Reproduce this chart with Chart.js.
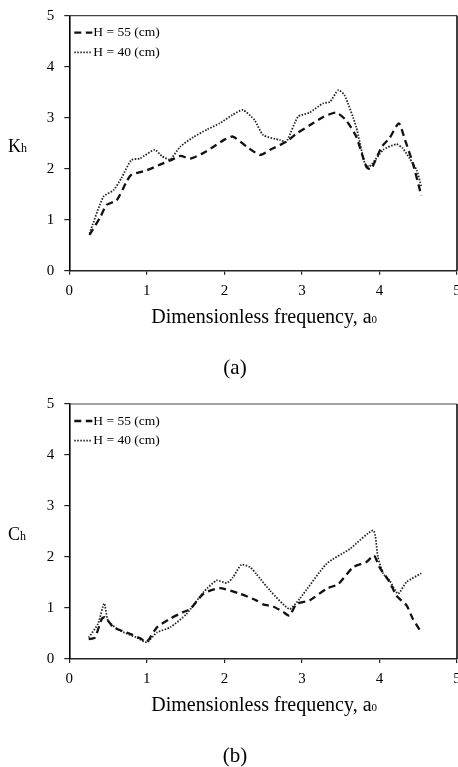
<!DOCTYPE html>
<html>
<head>
<meta charset="utf-8">
<script src="https://cdn.jsdelivr.net/npm/chart.js@4"></script>
<style>
  html, body { margin: 0; padding: 0; background: #fff; }
  body { width: 458px; height: 767px; position: relative; overflow: hidden; }
  .box { position: absolute; left: 0; width: 458px; }
  #boxA { top: 0; height: 388px; }
  #boxB { top: 388px; height: 379px; }
</style>
</head>
<body>
<div class="box" id="boxA"><canvas id="khChart"></canvas></div>
<div class="box" id="boxB"><canvas id="chChart"></canvas></div>
<script>
// x ticks (dimensionless frequency) and y ticks
const xTicks = [0, 1, 2, 3, 4, 5];
const yTicks = [0, 1, 2, 3, 4, 5];
const seriesNames = ['H = 55 (cm)', 'H = 40 (cm)'];

// Kh, H = 55 cm
const kh55X = [0.26, 0.40, 0.48, 0.61, 0.74, 0.80, 1.00, 1.17, 1.30, 1.43, 1.56, 1.72, 1.86, 2.00, 2.11, 2.29, 2.46, 2.59, 2.80, 2.93, 3.10, 3.27, 3.44, 3.57, 3.70, 3.83, 3.89, 4.03, 4.13, 4.25, 4.33, 4.43, 4.54];
const kh55Y = [0.70, 1.05, 1.29, 1.38, 1.75, 1.88, 1.97, 2.08, 2.16, 2.25, 2.20, 2.30, 2.43, 2.57, 2.63, 2.43, 2.27, 2.37, 2.53, 2.69, 2.85, 3.01, 3.10, 2.95, 2.63, 2.04, 1.99, 2.43, 2.60, 2.89, 2.56, 2.11, 1.47];
// Kh, H = 40 cm
const kh40X = [0.26, 0.44, 0.57, 0.67, 0.80, 0.91, 1.10, 1.20, 1.30, 1.43, 1.60, 1.78, 1.94, 2.10, 2.24, 2.39, 2.50, 2.72, 2.80, 2.95, 3.10, 3.27, 3.36, 3.47, 3.55, 3.70, 3.81, 3.87, 4.05, 4.22, 4.30, 4.39, 4.48, 4.54];
const kh40Y = [0.73, 1.45, 1.58, 1.81, 2.17, 2.20, 2.37, 2.24, 2.18, 2.43, 2.62, 2.77, 2.89, 3.05, 3.15, 2.95, 2.66, 2.56, 2.53, 3.02, 3.10, 3.28, 3.31, 3.54, 3.44, 2.82, 2.11, 2.04, 2.37, 2.48, 2.40, 2.20, 1.97, 1.65];

// Ch, H = 55 cm
const ch55X = [0.25, 0.33, 0.42, 0.46, 0.57, 0.74, 0.91, 1.00, 1.13, 1.30, 1.47, 1.56, 1.73, 1.94, 2.20, 2.41, 2.50, 2.63, 2.76, 2.84, 2.93, 3.10, 3.32, 3.47, 3.66, 3.83, 3.93, 4.00, 4.13, 4.22, 4.35, 4.43, 4.54];
const ch55Y = [0.39, 0.42, 0.79, 0.82, 0.62, 0.52, 0.41, 0.34, 0.62, 0.79, 0.92, 0.98, 1.28, 1.39, 1.28, 1.15, 1.07, 1.03, 0.92, 0.85, 1.08, 1.15, 1.38, 1.47, 1.80, 1.90, 2.03, 1.80, 1.51, 1.24, 1.05, 0.79, 0.52];
// Ch, H = 40 cm
const ch40X = [0.25, 0.37, 0.45, 0.50, 0.65, 0.87, 1.00, 1.13, 1.30, 1.51, 1.73, 1.90, 2.03, 2.11, 2.22, 2.33, 2.41, 2.59, 2.84, 2.97, 3.32, 3.62, 3.92, 3.98, 4.05, 4.13, 4.24, 4.35, 4.54];
const ch40Y = [0.42, 0.69, 1.09, 0.75, 0.56, 0.42, 0.33, 0.52, 0.62, 0.88, 1.31, 1.54, 1.49, 1.60, 1.85, 1.80, 1.67, 1.34, 0.98, 1.18, 1.87, 2.16, 2.52, 2.00, 1.67, 1.54, 1.28, 1.51, 1.68];

const SERIF = '"Liberation Serif", "Times New Roman", serif';

function points(xs, ys) {
  return xs.map((x, i) => ({ x: x, y: ys[i] }));
}

// frame, legend, axis titles and panel label
const extras = {
  id: 'extras',
  afterDraw(chart, args, opts) {
    const ctx = chart.ctx;
    const a = chart.chartArea;
    ctx.save();

    ctx.setLineDash([]);
    ctx.strokeStyle = '#444';
    ctx.lineWidth = 1.2;
    ctx.beginPath();
    ctx.moveTo(a.left, a.top);
    ctx.lineTo(a.right, a.top);
    ctx.stroke();
    ctx.strokeStyle = '#000';
    ctx.lineWidth = 1.5;
    ctx.beginPath();
    ctx.moveTo(a.right, a.top);
    ctx.lineTo(a.right, a.bottom);
    ctx.stroke();

    // legend
    ctx.font = '13.5px ' + SERIF;
    ctx.textBaseline = 'middle';
    ctx.fillStyle = '#000';
    chart.data.datasets.forEach((ds, i) => {
      const y = a.top + 17 + i * 19.6;
      ctx.setLineDash(ds.borderDash);
      ctx.lineWidth = ds.borderWidth;
      ctx.strokeStyle = ds.borderColor;
      ctx.beginPath();
      ctx.moveTo(a.left + 5, y);
      ctx.lineTo(a.left + 23, y);
      ctx.stroke();
      ctx.setLineDash([]);
      ctx.textAlign = 'left';
      ctx.fillText(ds.label, a.left + 24, y);
    });

    // y title (horizontal, with subscript)
    ctx.textBaseline = 'alphabetic';
    ctx.textAlign = 'left';
    const yb = a.top + 136;
    ctx.font = '18px ' + SERIF;
    ctx.fillText(opts.yMain, 8, yb);
    const kw = ctx.measureText(opts.yMain).width;
    ctx.font = '12px ' + SERIF;
    ctx.fillText(opts.ySub, 8 + kw, yb);

    // x title
    const xMain = 'Dimensionless frequency, a';
    ctx.font = '20px ' + SERIF;
    const w1 = ctx.measureText(xMain).width;
    ctx.font = '11px ' + SERIF;
    const w2 = ctx.measureText('0').width;
    const cx = (a.left + a.right) / 2 + 1;
    const x0 = cx - (w1 + w2) / 2;
    const xb = a.bottom + 52;
    ctx.font = '20px ' + SERIF;
    ctx.fillText(xMain, x0, xb);
    ctx.font = '11px ' + SERIF;
    ctx.fillText('0', x0 + w1, xb);

    // panel label
    ctx.font = '21px ' + SERIF;
    ctx.textAlign = 'center';
    ctx.fillText(opts.panel, 235, a.bottom + 103);

    ctx.restore();
  }
};

function makeChart(id, d55, d40, yMain, ySub, panel, padTop, padBottom) {
  const ctx = document.getElementById(id).getContext('2d');
  return new Chart(ctx, {
    type: 'line',
    data: {
      datasets: [{
        label: seriesNames[0],
        data: d55,
        borderColor: '#111',
        borderWidth: 2.3,
        borderDash: [7, 4.5],
        pointRadius: 0,
        tension: 0.2,
        fill: false
      }, {
        label: seriesNames[1],
        data: d40,
        borderColor: '#222',
        borderWidth: 1.8,
        borderDash: [1.5, 1.5],
        pointRadius: 0,
        tension: 0.2,
        fill: false
      }]
    },
    options: {
      responsive: true,
      maintainAspectRatio: false,
      animation: false,
      events: [],
      layout: { padding: { left: 0, right: 1, top: padTop, bottom: padBottom } },
      plugins: {
        legend: { display: false },
        tooltip: { enabled: false },
        extras: { yMain: yMain, ySub: ySub, panel: panel }
      },
      scales: {
        x: {
          type: 'linear',
          min: xTicks[0],
          max: xTicks[xTicks.length - 1],
          afterBuildTicks: s => { s.ticks = xTicks.map(v => ({ value: v })); },
          afterFit: s => { s.height = 29.3; s.paddingLeft = 0; s.paddingRight = 0; },
          border: { display: true, color: '#222', width: 1.6 },
          grid: { display: true, drawOnChartArea: false, drawTicks: true, tickLength: 4, color: '#222', lineWidth: 1.2 },
          ticks: { color: '#000', padding: 7, maxRotation: 0, font: { family: SERIF, size: 15 } }
        },
        y: {
          min: yTicks[0],
          max: yTicks[yTicks.length - 1],
          afterBuildTicks: s => { s.ticks = yTicks.map(v => ({ value: v })); },
          afterFit: s => { s.width = 69.3; s.paddingTop = 0; s.paddingBottom = 0; },
          border: { display: true, color: '#000', width: 1.6 },
          grid: { display: true, drawOnChartArea: false, drawTicks: true, tickLength: 5, color: '#222', lineWidth: 1.2 },
          ticks: { color: '#000', padding: 10, font: { family: SERIF, size: 15 } }
        }
      }
    },
    plugins: [extras]
  });
}

makeChart('khChart', points(kh55X, kh55Y), points(kh40X, kh40Y), 'K', 'h', '(a)', 15.7, 88);
makeChart('chChart', points(ch55X, ch55Y), points(ch40X, ch40Y), 'C', 'h', '(b)', 16, 78.7);
</script>
</body>
</html>
